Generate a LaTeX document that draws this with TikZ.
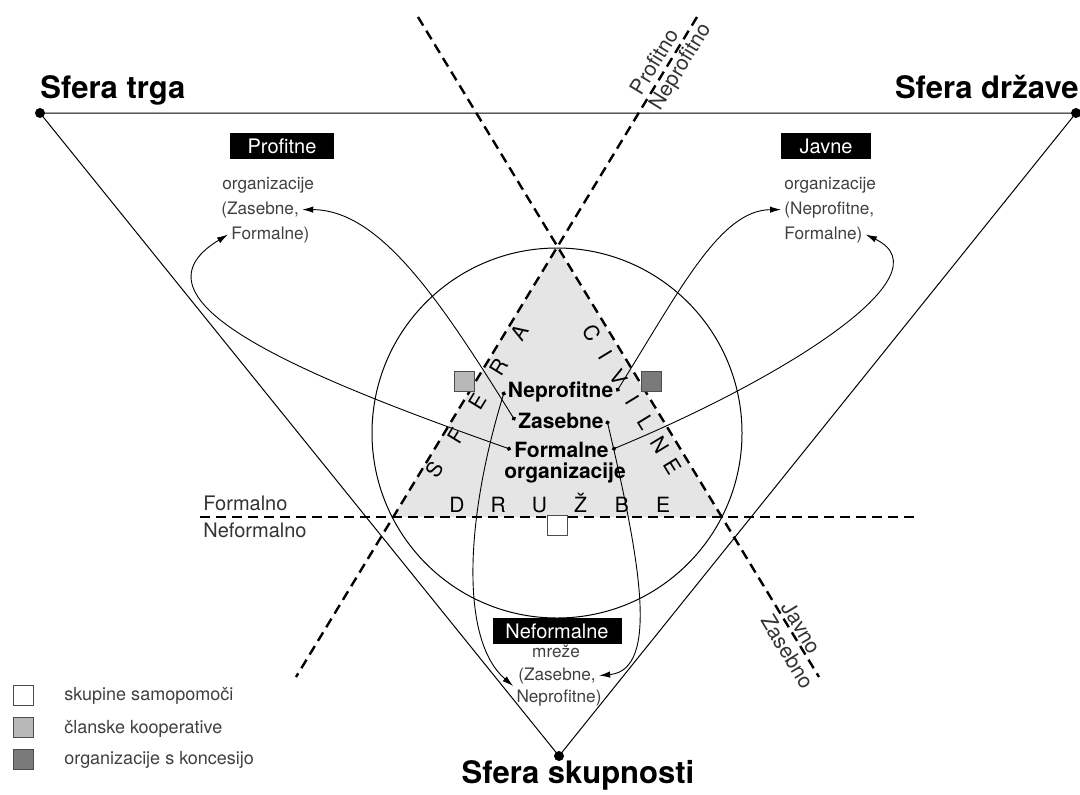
\documentclass[tikz,border=0pt]{standalone}
\usepackage{fontspec}
\setmainfont{TeX Gyre Heros}
\usetikzlibrary{arrows.meta}

\begin{document}
\begin{tikzpicture}[x=0.5pt,y=0.5pt,
  sfera/.style={inner sep=0pt,font=\fontsize{15.5}{18}\selectfont\bfseries},
  blackbox/.style={fill=black,text=white,inner sep=0pt,minimum height=13pt,font=\fontsize{10}{12}\selectfont},
  small/.style={inner sep=1.5pt,text=black!75,font=\fontsize{8.6}{10}\selectfont},
  centre/.style={inner sep=1.5pt,font=\fontsize{10.5}{12}\selectfont\bfseries},
  letter/.style={inner sep=0pt,font=\fontsize{10.5}{12}\selectfont},
  axis/.style={inner sep=0pt,text=black!80,font=\fontsize{10}{12}\selectfont},
  thinline/.style={line width=0.5pt},
  bigdash/.style={line width=1.2pt,dash pattern=on 5pt off 3pt},
  flow/.style={line width=0.45pt,{Circle[length=2.2pt]}-{Latex[length=5.5pt,width=3.2pt]}},
  sq/.style={draw=black!70,line width=0.5pt,minimum size=10pt,inner sep=0pt}]
\useasboundingbox (0,0) rectangle (1080,-794);

% corners
\coordinate (trg) at (40,-113);
\coordinate (drz) at (1076,-113);
\coordinate (sku) at (559,-756);
\coordinate (apex) at (557,-248);
\coordinate (tl) at (393,-517);
\coordinate (tr) at (721,-517);

% civil society triangle and circle
\fill[black!10] (apex) -- (tl) -- (tr) -- cycle;
\draw[thinline] (557,-433) circle (185);
\draw[thinline] (trg) -- (drz) -- (sku) -- cycle;
\fill (trg) circle (5);
\fill (drz) circle (5);
\fill (sku) circle (5);

% dividing lines
\coordinate (jz1) at (418,-17);
\coordinate (jz2) at (819,-677);
\coordinate (pn1) at (697,-17);
\coordinate (pn2) at (296,-677);
\coordinate (fn1) at (200,-517);
\coordinate (fn2) at (918,-517);
\draw[bigdash] (jz1) -- (jz2);
\draw[bigdash] (pn1) -- (pn2);
\draw[bigdash] (fn1) -- (fn2);

\node[axis,font=\fontsize{10.5}{12}\selectfont,rotate=58.6,anchor=south,inner sep=2.7pt] (lprof) at (666,-68.8) {Profitno};
\node[axis,font=\fontsize{10.5}{12}\selectfont,rotate=58.6,anchor=north,inner sep=1pt] (lnepr) at (671,-60.9) {Neprofitno};
\node[axis,font=\fontsize{10.5}{12}\selectfont,rotate=-58.6,anchor=south,inner sep=1.5pt] (ljav) at (792,-633.5) {Javno};
\node[axis,font=\fontsize{10.5}{12}\selectfont,rotate=-58.6,anchor=north,inner sep=2.5pt] (lzas) at (799,-645) {Zasebno};
\node[axis,anchor=base west] (lfor) at (203,-510) {Formalno};
\node[axis,anchor=base west] (lnef) at (203,-537) {Neformalno};

% spheres
\node[sfera,anchor=base west] (ltrg) at (40,-98) {Sfera trga};
\node[sfera,anchor=base east] (ldrz) at (1079,-98) {Sfera države};
\node[sfera,anchor=base] (lsku) at (578,-783) {Sfera skupnosti};

% organisation types
\node[blackbox,minimum width=52pt] (prof) at (282,-146) {Profitne};
\node[small,anchor=base west] (porg) at (219,-189) {organizacije};
\node[small,anchor=base west] (pzas) at (218,-214) {(Zasebne,};
\node[small,anchor=base west] (pfor) at (228,-239) {Formalne)};

\node[blackbox,minimum width=45pt] (javn) at (826,-146) {Javne};
\node[small,anchor=base west] (jorg) at (781,-189) {organizacije};
\node[small,anchor=base west] (jnep) at (781,-214) {(Neprofitne,};
\node[small,anchor=base west] (jfor) at (781,-239) {Formalne)};

\node[blackbox,minimum width=64.5pt] (nefo) at (557,-631) {Neformalne};
\node[small,anchor=base] (nmre) at (556,-657) {mreže};
\node[small,anchor=base] (nzas) at (557,-680) {(Zasebne,};
\node[small,anchor=base] (nnep) at (559,-702) {Neprofitne)};

% centre
\node[centre,anchor=base] (cnep) at (560.5,-397) {Neprofitne};
\node[centre,anchor=base] (czas) at (561,-428) {Zasebne};
\node[centre,anchor=base] (cfor) at (561.5,-457) {Formalne};
\node[centre,anchor=base] (corg) at (565,-478) {organizacije};

\foreach \l [count=\i from 0] in {S,F,E,R,A}
  \node[letter,rotate=58.6] (sf\i) at ({435+21.25*\i},{-470+34.25*\i}) {\l};
\foreach \l [count=\i from 0] in {C,I,V,I,L,N,E}
  \node[letter,rotate=-58.6] (cv\i) at ({592+13.5*\i},{-333-22.3*\i}) {\l};
\foreach \l [count=\i from 0] in {D,R,U,Ž,B,E}
  \node[letter,anchor=base] (dr\i) at ({457+41.2*\i},-512) {\l};

% flows
\draw[flow] (czas.west) .. controls (440,-300) and (380,-210) .. (pzas.east);
\draw[flow] (cfor.west) .. controls (300,-375) and (120,-300) .. (pfor.west);
\draw[flow] (cfor.east) .. controls (780,-380) and (950,-275) .. (jfor.east);
\draw[flow] (cnep.east) .. controls (680,-290) and (720,-210) .. (jnep.west);
\draw[flow] (cnep.west) .. controls (465,-520) and (460,-640) .. (nnep.north west);
\draw[flow] (czas.east) .. controls (640,-560) and (660,-670) .. (nzas.east);

% kinds of organisations
\node[sq,fill=black!28] (kop) at (464,-381.5) {};
\node[sq,fill=black!52] (kon) at (651.5,-381.5) {};
\node[sq,fill=white] (sam) at (557,-525) {};

% legend
\node[sq,fill=white] (lg1) at (23,-695.5) {};
\node[sq,fill=black!28] (lg2) at (23,-727.5) {};
\node[sq,fill=black!52] (lg3) at (23,-759) {};
\node[small,inner sep=0pt,font=\fontsize{9}{11}\selectfont,anchor=base west] (lt1) at (64,-700) {skupine samopomoči};
\node[small,inner sep=0pt,font=\fontsize{9}{11}\selectfont,anchor=base west] (lt2) at (64,-733) {članske kooperative};
\node[small,inner sep=0pt,font=\fontsize{9}{11}\selectfont,anchor=base west] (lt3) at (64,-764) {organizacije s koncesijo};
\end{tikzpicture}
\end{document}
